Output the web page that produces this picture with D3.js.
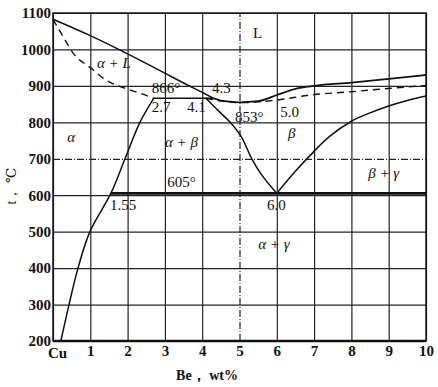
<!DOCTYPE html>
<html><head><meta charset="utf-8">
<script src="https://cdn.jsdelivr.net/npm/d3@7"></script>
<style>
body{margin:0;background:#fff;}
svg{display:block;}
text{font-family:"Liberation Serif","DejaVu Serif",serif;fill:#111;}
</style></head>
<body>
<svg id="c" width="438" height="387"></svg>
<script>
// ---- data (wt% Be, °C) ----
const xTicks = [0,1,2,3,4,5,6,7,8,9,10];
const xTickLabels = ["Cu","1","2","3","4","5","6","7","8","9","10"];
const yTicks = [200,300,400,500,600,700,800,900,1000,1100];
const liquidusAlpha = [[0,1083],[1,1038],[2,988],[3,935],[3.5,908],[4,882],[4.3,866]];
const liquidusBeta = [[4.3,866],[4.6,858],[5.0,855],[5.5,858],[6.0,875],[6.5,892],[7,900],[8,909],[9,919],[10,930]];
const solidusAlpha = [[0,1083],[0.3,1030],[0.54,990],[1.0,950],[1.45,914],[1.88,895],[2.33,880],[2.7,866]];
const solidusBeta = [[4.1,866],[4.6,857],[5.0,854],[5.5,856],[6.0,861],[6.9,875],[8,884],[9,893],[10,901]];
const solvusAlpha = [[0.21,200],[0.43,300],[0.67,400],[0.99,500],[1.55,605],[1.93,700],[2.33,800],[2.7,866]];
const solvusBetaLeft = [[4.1,866],[4.45,830],[4.75,800],[5.05,760],[5.33,700],[5.6,655],[6.0,605]];
const solvusBetaRight = [[6.0,605],[6.45,660],[6.9,710],[7.4,760],[8.0,803],[8.5,826],[9,845],[9.5,860],[10,872]];
const peritectic = [[2.7,866],[4.3,866]];
const eutectoid = [[1.55,605],[10,605]];
const labels = [
  {t:"α + L", x:1.18, y:949, it:true},
  {t:"L", x:5.36, y:1031, it:false},
  {t:"866°", x:2.65, y:880, it:false},
  {t:"4.3", x:4.26, y:880, it:false},
  {t:"2.7", x:2.65, y:828, it:false},
  {t:"4.1", x:3.59, y:828, it:false},
  {t:"853°", x:4.88, y:801, it:false},
  {t:"5.0", x:6.09, y:815, it:false},
  {t:"α", x:0.38, y:746, it:true},
  {t:"α + β", x:3.0, y:732, it:true},
  {t:"β", x:6.3, y:757, it:true},
  {t:"β + γ", x:8.45, y:647, it:true},
  {t:"605°", x:3.06, y:622, it:false},
  {t:"1.55", x:1.53, y:559, it:false},
  {t:"6.0", x:5.74, y:559, it:false},
  {t:"α + γ", x:5.5, y:452, it:true}
];

const svg = d3.select("#c");
svg.append("rect").attr("width",438).attr("height",387).attr("fill","#fff");
const x = d3.scaleLinear().domain([0,10]).range([53,426]);
const y = d3.scaleLinear().domain([200,1100]).range([341,13]);

// grid via axes
const gx = svg.append("g").attr("transform","translate(0,341)")
  .call(d3.axisBottom(x).tickValues(xTicks).tickSize(-328).tickFormat((d,i)=>xTickLabels[i]).tickPadding(4));
const gy = svg.append("g").attr("transform","translate(53,0)")
  .call(d3.axisLeft(y).tickValues(yTicks).tickSize(-373).tickFormat(d3.format("d")).tickPadding(2));
[gx,gy].forEach(g=>{
  g.select(".domain").remove();
  g.selectAll(".tick line").attr("stroke","#222").attr("stroke-width",1.2);
  g.selectAll(".tick text").attr("fill","#111")
    .style("font-family","'Liberation Serif',serif").style("font-weight","bold");
});
gy.selectAll(".tick text").attr("font-size",15);
gx.selectAll(".tick text").attr("font-size",15);
gx.selectAll(".tick text").filter(d=>d===0).attr("dx",4).attr("dy","0.85em");
gx.selectAll(".tick line").filter(d=>d===5).attr("stroke-dasharray","7,2,1,2");
gy.selectAll(".tick line").filter(d=>d===700).attr("stroke-dasharray","7,2,1,2");
// frame
svg.append("rect").attr("x",x(0)).attr("y",y(1100)).attr("width",x(10)-x(0)).attr("height",y(200)-y(1100))
  .attr("fill","none").attr("stroke","#111").attr("stroke-width",1.4);
svg.append("line").attr("x1",x(0)).attr("x2",x(10)).attr("y1",y(200)).attr("y2",y(200))
  .attr("stroke","#111").attr("stroke-width",2.4);

const line = d3.line().x(d=>x(d[0])).y(d=>y(d[1]));
const mono = d3.line().x(d=>x(d[0])).y(d=>y(d[1])).curve(d3.curveMonotoneX);
const smooth = d3.line().x(d=>x(d[0])).y(d=>y(d[1])).curve(d3.curveCatmullRom.alpha(0.5));
function draw(data, gen, w, dash){
  svg.append("path").datum(data).attr("d",gen).attr("fill","none")
    .attr("stroke","#111").attr("stroke-width",w).attr("stroke-dasharray",dash||null);
}
draw(liquidusAlpha, mono, 1.5);
draw(liquidusBeta, mono, 1.8);
draw(solidusAlpha, mono, 1.4, "7,5");
draw(solidusBeta, mono, 1.4, "7,5");
draw(solvusAlpha, smooth, 1.5);
draw(solvusBetaLeft, smooth, 1.5);
draw(solvusBetaRight, smooth, 1.5);
draw(peritectic, line, 1.5);
draw(eutectoid, line, 2.6);

// labels
svg.append("g").selectAll("text").data(labels).join("text")
  .attr("x",d=>x(d.x)).attr("y",d=>y(d.y))
  .attr("font-size",15)
  .attr("font-style",d=>d.it?"italic":"normal")
  .text(d=>d.t);

// axis titles
svg.append("text").attr("x",207).attr("y",380).attr("text-anchor","middle").attr("font-size",14).attr("font-weight","bold").text("Be， wt%");
svg.append("text").attr("transform","translate(16,186) rotate(-90)").attr("text-anchor","middle").attr("font-size",14).text("t， ℃");
</script>
</body></html>
